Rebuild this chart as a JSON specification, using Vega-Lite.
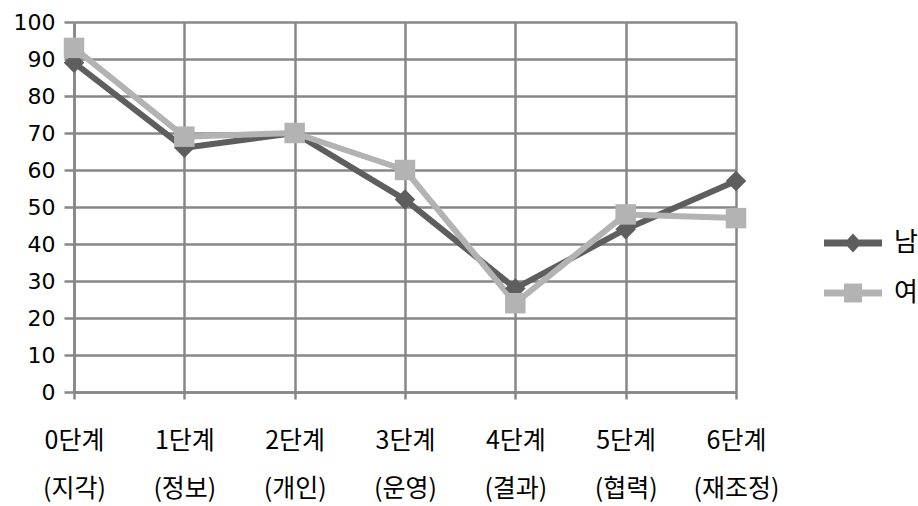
{
  "$schema": "https://vega.github.io/schema/vega-lite/v6.json",
  "autosize": {"type": "none"},
  "width": 662,
  "height": 370,
  "padding": {"left": 74, "top": 22, "right": 182, "bottom": 114},
  "background": "white",
  "data": {"values": [
    {"stage": "0단계 (지각)", "sex": "남", "v": 89},
    {"stage": "1단계 (정보)", "sex": "남", "v": 66},
    {"stage": "2단계 (개인)", "sex": "남", "v": 70},
    {"stage": "3단계 (운영)", "sex": "남", "v": 52},
    {"stage": "4단계 (결과)", "sex": "남", "v": 28},
    {"stage": "5단계 (협력)", "sex": "남", "v": 44},
    {"stage": "6단계 (재조정)", "sex": "남", "v": 57},
    {"stage": "0단계 (지각)", "sex": "여", "v": 93},
    {"stage": "1단계 (정보)", "sex": "여", "v": 69},
    {"stage": "2단계 (개인)", "sex": "여", "v": 70},
    {"stage": "3단계 (운영)", "sex": "여", "v": 60},
    {"stage": "4단계 (결과)", "sex": "여", "v": 24},
    {"stage": "5단계 (협력)", "sex": "여", "v": 48},
    {"stage": "6단계 (재조정)", "sex": "여", "v": 47}
  ]},
  "encoding": {
    "x": {
      "field": "stage", "type": "ordinal", "sort": null,
      "scale": {"type": "point", "padding": 0},
      "axis": {
        "title": null, "labelAngle": 0,
        "labelExpr": "split(datum.label, ' ')",
        "labelFont": "Noto Sans CJK KR", "labelFontSize": 25, "labelColor": "#000",
        "labelLineHeight": 48, "labelPadding": 29, "labelBaseline": "top",
        "grid": true, "gridColor": "#878787", "gridWidth": 2.5,
        "domain": true, "domainColor": "#878787", "domainWidth": 2.5,
        "ticks": true, "tickColor": "#878787", "tickWidth": 2.5, "tickSize": 7
      }
    },
    "y": {
      "field": "v", "type": "quantitative",
      "scale": {"domain": [0, 100], "nice": false},
      "axis": {
        "title": null, "values": [0,10,20,30,40,50,60,70,80,90,100],
        "labelFont": "DejaVu Sans", "labelFontSize": 22, "labelColor": "#000",
        "labelPadding": 9,
        "grid": true, "gridColor": "#878787", "gridWidth": 2.5,
        "domain": true, "domainColor": "#878787", "domainWidth": 2.5,
        "ticks": true, "tickColor": "#878787", "tickWidth": 2.5, "tickSize": 10
      }
    },
    "color": {
      "field": "sex", "type": "nominal", "sort": ["남", "여"],
      "scale": {"domain": ["남", "여"], "range": ["#5e5e5e", "#b3b3b3"]},
      "legend": {
        "title": null, "orient": "none", "legendX": 766, "legendY": 208,
        "padding": 0, "symbolSize": 400, "rowPadding": 24, "labelOffset": 28,
        "labelFont": "Noto Sans CJK KR", "labelFontSize": 26, "labelColor": "#000",
        "symbolStrokeWidth": 0,
        "encode": {
          "symbols": {
            "update": {
              "shape": {"signal": "datum.value === '남' ? 'M-2.9,-0.35L-0.55,-0.35L0,-0.95L0.55,-0.35L2.9,-0.35L2.9,0.35L0.55,0.35L0,0.95L-0.55,0.35L-2.9,0.35Z' : 'M-2.9,-0.35L-0.9,-0.35L-0.9,-0.95L0.9,-0.95L0.9,-0.35L2.9,-0.35L2.9,0.35L0.9,0.35L0.9,0.95L-0.9,0.95L-0.9,0.35L-2.9,0.35Z'"},
              "fill": {"signal": "datum.value === '남' ? '#5e5e5e' : '#b3b3b3'"},
              "stroke": {"value": "transparent"},
              "opacity": {"value": 1}
            }
          }
        }
      }
    }
  },
  "layer": [
    {"mark": {"type": "line", "strokeWidth": 6, "strokeJoin": "round"}},
    {
      "transform": [{"filter": "datum.sex === '남'"}],
      "mark": {"type": "point", "filled": true, "opacity": 1, "size": 420, "shape": "diamond"}
    },
    {
      "transform": [{"filter": "datum.sex === '여'"}],
      "mark": {"type": "point", "filled": true, "opacity": 1, "size": 420, "shape": "square"}
    }
  ]
}
